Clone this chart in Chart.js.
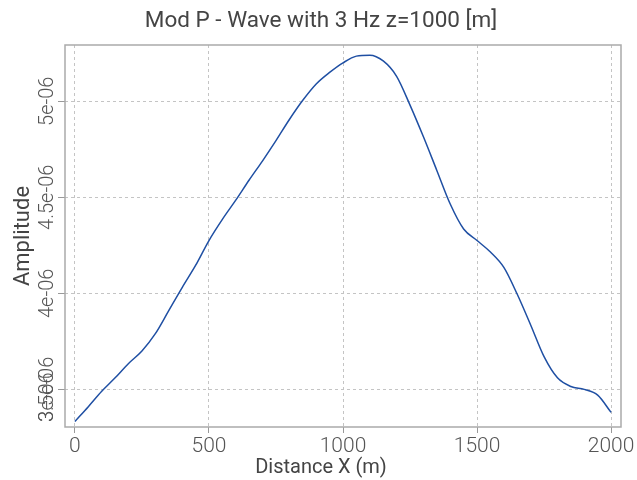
<!DOCTYPE html>
<html>
<head>
<meta charset="utf-8">
<script src="https://cdn.jsdelivr.net/npm/chart.js@4"></script>
<style>
  html, body { margin: 0; padding: 0; background: #fff; }
</style>
</head>
<body>
<canvas id="waveChart" width="637" height="480"></canvas>
<script>
const distances = [0, 50, 100, 150, 200, 250, 300, 350, 400, 450, 500, 550, 600, 650, 700, 750, 800, 850, 900, 950,
    1000, 1050, 1100, 1150, 1200, 1250, 1300, 1350, 1400, 1450, 1500, 1550, 1600, 1650, 1700, 1750, 1800, 1850, 1900, 1950, 2000];
const amplitudes = [3.333e-6, 3.41e-6, 3.49e-6, 3.56e-6, 3.635e-6, 3.70e-6, 3.79e-6, 3.91e-6, 4.03e-6, 4.145e-6,
    4.275e-6, 4.385e-6, 4.485e-6, 4.59e-6, 4.69e-6, 4.795e-6, 4.905e-6, 5.005e-6, 5.09e-6, 5.15e-6,
    5.20e-6, 5.235e-6, 5.24e-6, 5.21e-6, 5.13e-6, 4.98e-6, 4.815e-6, 4.64e-6, 4.465e-6, 4.335e-6,
    4.275e-6, 4.215e-6, 4.135e-6, 3.995e-6, 3.835e-6, 3.67e-6, 3.56e-6, 3.515e-6, 3.50e-6, 3.47e-6, 3.38e-6];

const xTicks = [0, 500, 1000, 1500, 2000];
// last entry is the stray label that overlaps 3.5e-06 in the original
const yTicks = [3.5e-6, 4e-6, 4.5e-6, 5e-6, 3.46e-6];
const yTickLabels = ['3.5e-06', '4e-06', '4.5e-06', '5e-06', '3e-06'];

const gridColor = '#c4c4c4';
const strayTick = yTicks[yTicks.length - 1];

const framePlugin = {
    id: 'frame',
    afterDraw: chart => {
        const a = chart.chartArea;
        const ctx = chart.ctx;
        ctx.save();
        ctx.strokeStyle = '#aaaaaa';
        ctx.lineWidth = 1.5;
        ctx.strokeRect(a.left, a.top, a.right - a.left, a.bottom - a.top);
        ctx.restore();
    }
};

const ctx = document.getElementById('waveChart').getContext('2d');
new Chart(ctx, {
    type: 'line',
    data: {
        datasets: [{
            data: distances.map((x, i) => ({ x: x, y: amplitudes[i] })),
            borderColor: '#1f4fa3',
            borderWidth: 1.5,
            pointRadius: 0,
            fill: false,
            cubicInterpolationMode: 'monotone'
        }]
    },
    options: {
        responsive: false,
        animation: false,
        layout: { padding: { left: 21, right: 16, top: 0, bottom: 0 } },
        plugins: {
            legend: { display: false },
            tooltip: { enabled: false },
            title: {
                display: true,
                text: 'Mod P - Wave with 3 Hz z=1000 [m]',
                color: '#444',
                font: { family: 'Roboto', size: 22.5, weight: 'normal', lineHeight: 1.2 },
                padding: { top: 8, bottom: 10 }
            },
            // x axis caption, placed as a bottom subtitle so it centres on the figure
            subtitle: {
                display: true,
                position: 'bottom',
                text: 'Distance X (m)',
                color: '#444',
                font: { family: 'Roboto', size: 20, weight: 'normal', lineHeight: 0.6 },
                padding: { top: 0, bottom: 6 }
            }
        },
        scales: {
            x: {
                type: 'linear',
                min: -37,
                max: 2037,
                afterBuildTicks: scale => { scale.ticks = xTicks.map(v => ({ value: v })); },
                afterFit: scale => {
                    scale.height = 35;
                    scale.paddingLeft = 0;
                    scale.paddingRight = 0;
                },
                border: { display: false, dash: [3, 3] },
                grid: { color: gridColor, tickLength: 6, tickColor: '#999', tickBorderDash: [] },
                ticks: {
                    color: '#555',
                    font: { family: 'Roboto', size: 21, weight: 300, lineHeight: 1 },
                    padding: 3,
                    maxRotation: 0,
                    callback: v => String(v)
                }
            },
            y: {
                type: 'linear',
                min: 3.304e-6,
                max: 5.293e-6,
                afterBuildTicks: scale => { scale.ticks = yTicks.map(v => ({ value: v })); },
                afterFit: scale => {
                    scale.width = 44;
                    scale.paddingTop = 0;
                    scale.paddingBottom = 0;
                },
                border: { display: false, dash: [3, 3] },
                grid: {
                    color: c => (c.tick && c.tick.value === strayTick) ? 'rgba(0,0,0,0)' : gridColor,
                    tickColor: c => (c.tick && c.tick.value === strayTick) ? 'rgba(0,0,0,0)' : '#999',
                    tickLength: 7,
                    tickBorderDash: []
                },
                ticks: {
                    color: '#555',
                    font: { family: 'Roboto', size: 20, weight: 300 },
                    minRotation: 90,
                    maxRotation: 90,
                    crossAlign: 'center',
                    padding: -23,
                    callback: (v, i) => yTickLabels[i]
                },
                title: {
                    display: true,
                    text: 'Amplitude',
                    color: '#444',
                    font: { family: 'Roboto', size: 22 },
                    padding: { top: -11, bottom: 0 }
                }
            }
        }
    },
    plugins: [framePlugin]
});
</script>
</body>
</html>
